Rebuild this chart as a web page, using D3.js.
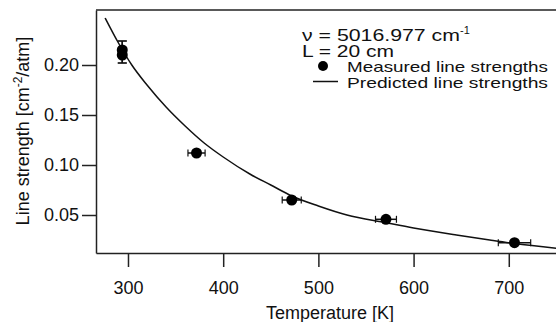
<!DOCTYPE html>
<html>
<head>
<meta charset="utf-8">
<script src="https://cdn.jsdelivr.net/npm/d3@7"></script>
<style>
  body { margin: 0; background: #fff; }
  text { font-family: "Liberation Sans", Arial, sans-serif; fill: #111; }
</style>
</head>
<body>
<div id="chart"></div>
<script>
// measured points (temperature K, line strength cm-2/atm)
var measT = [294, 294, 372, 472, 571, 706];
var measS = [0.215, 0.210, 0.112, 0.065, 0.0457, 0.0223];
var errT = [0, 0, 9, 10, 11, 17];
var errSLow = [0.202, 0.202, null, null, null, null];
var errSHigh = [0.224, 0.224, null, null, null, null];

// predicted curve
var predT = [276, 290, 304, 320, 340, 360, 380, 400, 428, 450, 472, 500, 530, 571, 600, 645, 680, 706, 750];
var predS = [0.247, 0.222, 0.200, 0.180, 0.158, 0.139, 0.122, 0.108, 0.091, 0.080, 0.069, 0.059, 0.050, 0.0423, 0.037, 0.030, 0.025, 0.0215, 0.0167];

var xTicks = [300, 400, 500, 600, 700];
var yTicks = [0.05, 0.10, 0.15, 0.20];

var svgWidth = 556;
var svgHeight = 322;
var margin = {top: 10, right: 0, bottom: 69, left: 96};

var svg = d3.select("#chart").append("svg")
  .attr("width", svgWidth)
  .attr("height", svgHeight);

var x = d3.scaleLinear().domain([266.4, 749.6]).range([margin.left, svgWidth - margin.right]);
var y = d3.scaleLinear().domain([0.012, 0.255]).range([svgHeight - margin.bottom, margin.top]);

var bottomAxis = d3.axisBottom(x).tickValues(xTicks).tickSize(14).tickSizeOuter(0).tickPadding(14)
  .tickFormat(d3.format("d"));
var leftAxis = d3.axisLeft(y).tickValues(yTicks).tickSize(14).tickSizeOuter(0).tickPadding(3)
  .tickFormat(d3.format(".2f"));

var gx = svg.append("g")
  .attr("transform", `translate(0, ${y.range()[0]})`)
  .call(bottomAxis);
var gy = svg.append("g")
  .attr("transform", `translate(${margin.left}, 0)`)
  .call(leftAxis);

[gx, gy].forEach(function(g) {
  g.selectAll("path, line").attr("stroke", "#222").attr("stroke-width", 1.5);
  g.selectAll("text").attr("font-size", 18).attr("fill", "#111")
    .style("font-family", '"Liberation Sans", Arial, sans-serif');
});

// top border
svg.append("line")
  .attr("x1", margin.left).attr("x2", svgWidth)
  .attr("y1", margin.top).attr("y2", margin.top)
  .attr("stroke", "#222").attr("stroke-width", 1.5);

// predicted curve
var line = d3.line()
  .x(function(d, i) { return x(predT[i]); })
  .y(function(d, i) { return y(predS[i]); })
  .curve(d3.curveMonotoneX);

svg.append("path")
  .datum(predT)
  .attr("d", line)
  .attr("fill", "none")
  .attr("stroke", "#111")
  .attr("stroke-width", 1.5);

// error bars
var idx = d3.range(measT.length);
var capH = 3.5;
idx.forEach(function(i) {
  if (errT[i] > 0) {
    var x0 = x(measT[i] - errT[i]), x1 = x(measT[i] + errT[i]), yy = y(measS[i]);
    svg.append("line").attr("x1", x0).attr("x2", x1).attr("y1", yy).attr("y2", yy)
      .attr("stroke", "#111").attr("stroke-width", 1.5);
    [x0, x1].forEach(function(xx) {
      svg.append("line").attr("x1", xx).attr("x2", xx).attr("y1", yy - capH).attr("y2", yy + capH)
        .attr("stroke", "#111").attr("stroke-width", 1.2);
    });
  }
  if (errSLow[i] != null) {
    var xx = x(measT[i]), y0 = y(errSLow[i]), y1 = y(errSHigh[i]);
    svg.append("line").attr("x1", xx).attr("x2", xx).attr("y1", y0).attr("y2", y1)
      .attr("stroke", "#111").attr("stroke-width", 1.5);
    [y0, y1].forEach(function(yy) {
      svg.append("line").attr("x1", xx - 4.5).attr("x2", xx + 4.5).attr("y1", yy).attr("y2", yy)
        .attr("stroke", "#111").attr("stroke-width", 1.2);
    });
  }
});

svg.selectAll("circle.pt")
  .data(idx)
  .enter()
  .append("circle")
  .attr("class", "pt")
  .attr("cx", function(i) { return x(measT[i]); })
  .attr("cy", function(i) { return y(measS[i]); })
  .attr("r", 5.5)
  .attr("fill", "#000");

// axis titles
svg.append("text")
  .attr("x", 330).attr("y", 319)
  .attr("text-anchor", "middle")
  .attr("font-size", 18)
  .text("Temperature [K]");

var yt = svg.append("text")
  .attr("transform", "translate(29, 131) rotate(-90)")
  .attr("text-anchor", "middle")
  .attr("font-size", 18);
yt.append("tspan").text("Line strength [cm");
yt.append("tspan").attr("dy", -7).attr("font-size", 12).text("-2");
yt.append("tspan").attr("dy", 7).text("/atm]");

// legend (stretched a little, as in the scan)
var leg = svg.append("g");
var t1 = leg.append("text").attr("x", 302).attr("y", 41).attr("font-size", 16);
t1.append("tspan").attr("textLength", 158).attr("lengthAdjust", "spacingAndGlyphs").text("\u03bd = 5016.977 cm");
t1.append("tspan").attr("dy", -7).attr("font-size", 11).text("-1");

leg.append("text").attr("x", 302).attr("y", 57).attr("font-size", 16)
  .attr("textLength", 92).attr("lengthAdjust", "spacingAndGlyphs").text("L = 20 cm");

leg.append("circle").attr("cx", 323).attr("cy", 66).attr("r", 5).attr("fill", "#000");
leg.append("text").attr("x", 347).attr("y", 71.5).attr("font-size", 15)
  .attr("textLength", 201).attr("lengthAdjust", "spacingAndGlyphs").text("Measured line strengths");

leg.append("line").attr("x1", 313).attr("x2", 338).attr("y1", 81.5).attr("y2", 81.5)
  .attr("stroke", "#111").attr("stroke-width", 1.5);
leg.append("text").attr("x", 347).attr("y", 87.5).attr("font-size", 15)
  .attr("textLength", 201).attr("lengthAdjust", "spacingAndGlyphs").text("Predicted line strengths");
</script>
</body>
</html>
